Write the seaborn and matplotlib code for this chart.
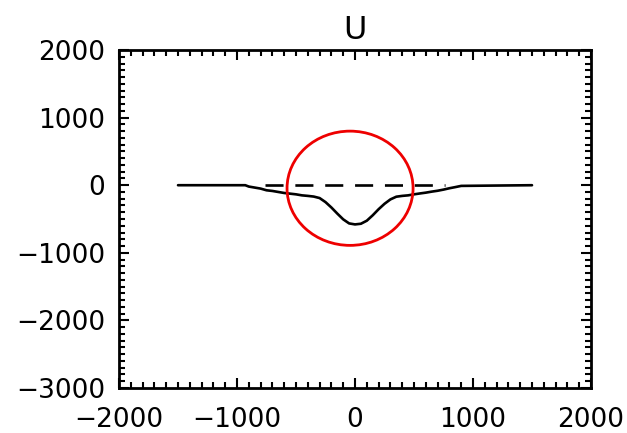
import matplotlib
matplotlib.use("Agg")
import matplotlib.pyplot as plt
import seaborn as sns
from matplotlib.patches import Ellipse
from matplotlib.ticker import MultipleLocator

# ---- data ----
title = "U"
x_pos = [-1500, -930, -900, -850, -800, -750, -700, -650, -600, -550, -500, -450,
         -400, -350, -300, -250, -200, -150, -100, -50, 0, 50, 100, 150, 200, 250,
         300, 350, 400, 450, 500, 550, 600, 650, 700, 750, 800, 850, 900, 1500]
u_vals = [0, 0, -20, -35, -50, -75, -85, -100, -115, -125, -135, -150,
          -158, -168, -190, -250, -330, -420, -505, -565, -580, -570, -525, -445, -355, -275,
          -210, -170, -158, -150, -135, -122, -110, -95, -82, -65, -45, -28, -10, 0]
ref_x = [-760, 760]
ref_u = [0, 0]
x_ticks = [-2000, -1000, 0, 1000, 2000]
y_ticks = [-3000, -2000, -1000, 0, 1000, 2000]
# highlight ellipse (annotation): center, width, height in data units
circ_center = (-42, -45)
circ_w = 1068
circ_h = 1690

sns.set_theme(style="white")
plt.rcParams['font.family'] = ['DejaVu Sans']
plt.rcParams['lines.scale_dashes'] = False

fig = plt.figure(figsize=(6.27, 4.33), dpi=100)
ax = fig.add_axes([0.1898, 0.1039, 0.7528, 0.7806])

sns.lineplot(x=x_pos, y=u_vals, ax=ax, color='black', linewidth=1.9,
             estimator=None, sort=False)
sns.lineplot(x=ref_x, y=ref_u, ax=ax, color='black', linewidth=1.9,
             estimator=None, sort=False, linestyle=(0, (13, 8.5)))

ell = Ellipse(circ_center, circ_w, circ_h, fill=False, edgecolor='#ee0000',
              linewidth=2.0, zorder=5)
ax.add_patch(ell)

ax.set_xlim(-2000, 2000)
ax.set_ylim(-3000, 2000)
ax.set_xticks(x_ticks)
ax.set_yticks(y_ticks)
ax.xaxis.set_minor_locator(MultipleLocator(100))
ax.yaxis.set_minor_locator(MultipleLocator(100))
ax.set_xticklabels([str(v).replace('-', '\u2212') for v in x_ticks])
ax.set_yticklabels([str(v).replace('-', '\u2212') for v in y_ticks])

ax.tick_params(which='both', direction='in', top=True, right=True,
               bottom=True, left=True, color='black', width=1.5)
ax.tick_params(which='major', length=7.5, labelsize=19, labelcolor='black')
ax.tick_params(axis='x', which='major', pad=14)
ax.tick_params(axis='y', which='major', pad=10)
ax.tick_params(which='minor', length=4)

for s in ax.spines.values():
    s.set_visible(True)
    s.set_color('black')
    s.set_linewidth(2.0)

ax.set_title(title, fontsize=23, color='black', pad=8)
ax.set_xlabel('')
ax.set_ylabel('')
ax.grid(False)

fig.savefig("out.png", dpi=100, facecolor='white')
